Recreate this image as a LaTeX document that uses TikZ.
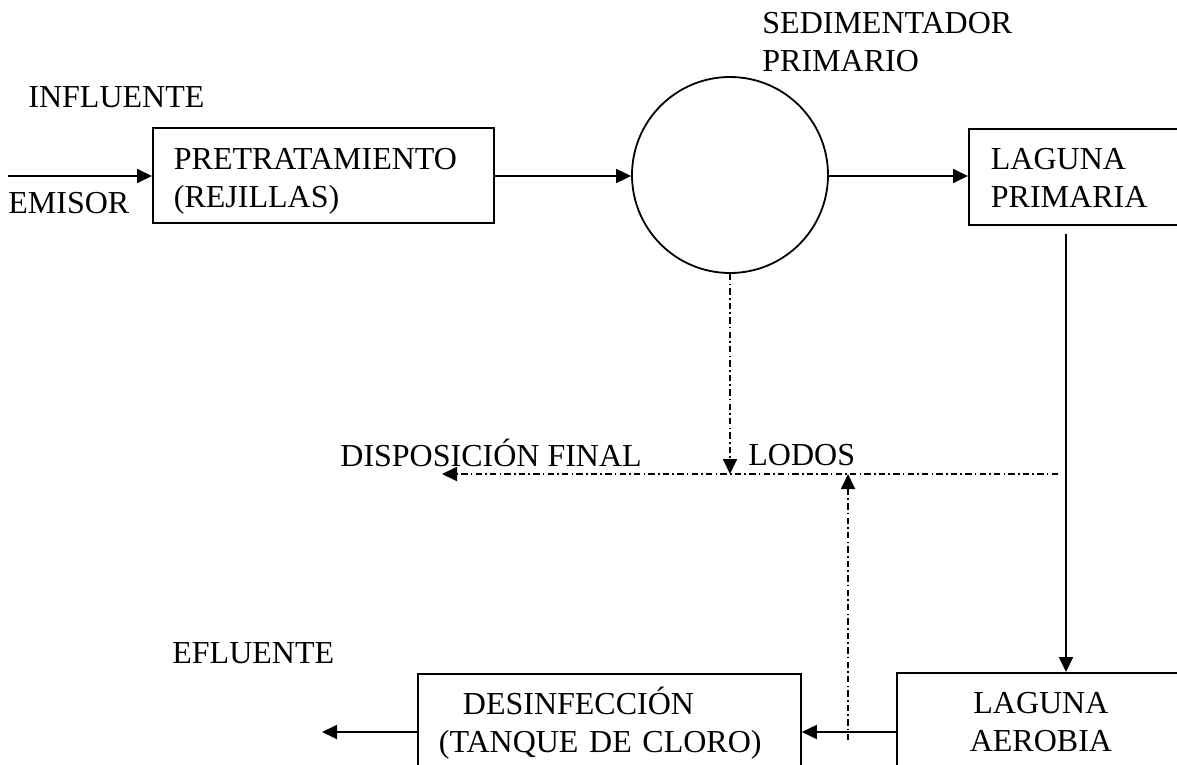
\documentclass[tikz,border=0pt]{standalone}
\usepackage{fontspec}
\setmainfont{Liberation Serif}
\usetikzlibrary{arrows.meta,positioning}

\begin{document}
\begin{tikzpicture}[x=0.5pt,y=-0.5pt,
  font=\fontsize{16}{19}\selectfont,
  unit/.style={draw,line width=0.9pt,inner ysep=0pt,inner xsep=10.5pt,align=left},
  flow/.style={line width=0.9pt,-{Triangle[length=7.5pt,width=7pt]}},
  sludge/.style={flow,dash pattern=on 3.2pt off 1.6pt on 0.8pt off 1.6pt},
  lbl/.style={inner sep=0pt}]
\useasboundingbox (0,0) rectangle (1177,765);
% units of the plant
\node[unit,anchor=north west,minimum width=170.5pt,minimum height=47.5pt,text width=149.5pt] (pre) at (152,127) {\rule{0pt}{16.5pt}PRETRATAMIENTO\\(REJILLAS)};
\node[draw,circle,line width=0.9pt,minimum size=98pt,inner sep=0pt] (sed) at (730,175) {};
\node[unit,anchor=north west,minimum width=120pt,minimum height=48pt,text width=98pt,inner xsep=11pt] (lp) at (968,128) {\rule{0pt}{12pt}LAGUNA\\PRIMARIA};
\node[unit,anchor=north west,minimum width=144pt,minimum height=49pt,text width=123pt,align=center] (aer) at (896,672) {LAGUNA\\AEROBIA};
\node[unit,anchor=north west,minimum width=191.5pt,minimum height=49pt,text width=170.5pt] (des) at (417,673) {\hspace*{12pt}DESINFECCIÓN\\(TANQUE DE CLORO)};
% labels
\node[lbl,anchor=base west] (infl) at (28,108) {INFLUENTE};
\node[lbl,anchor=base west] (emis) at (8,213) {EMISOR};
\node[lbl,anchor=north west,align=left] (sedl) at (762,12) {SEDIMENTADOR\\PRIMARIO};
\node[lbl,anchor=base west] (efl) at (172,663) {EFLUENTE};
\node[lbl,anchor=base west] (disp) at (340,466) {DISPOSICIÓN FINAL};
\node[lbl,anchor=base west] (lod) at (748,465) {LODOS};
% free ends
\coordinate (in) at (8,176);
\coordinate (lpo) at (1066,234);
\coordinate (out) at (322,732);
\coordinate (jd) at (848,732);
\coordinate (jt) at (848,740);
\coordinate (ls) at (730,474);
\coordinate (le) at (1058,474);
\coordinate (ld) at (442,474);
% water line
\draw[flow] (in) -- (in -| pre.west);
\draw[flow] (in -| pre.east) -- (in -| sed.west);
\draw[flow] (in -| sed.east) -- (in -| lp.west);
\draw[flow] (lpo) -- (lpo |- aer.north);
\draw[flow] (jd -| aer.west) -- (jd -| des.east);
\draw[flow] (jd -| des.west) -- (out);
% sludge line
\draw[sludge] (sed.south) -- (ls);
\draw[sludge] (le) -- (ld);
\draw[sludge] (jt) -- (jt |- ls);
\end{tikzpicture}
\end{document}
